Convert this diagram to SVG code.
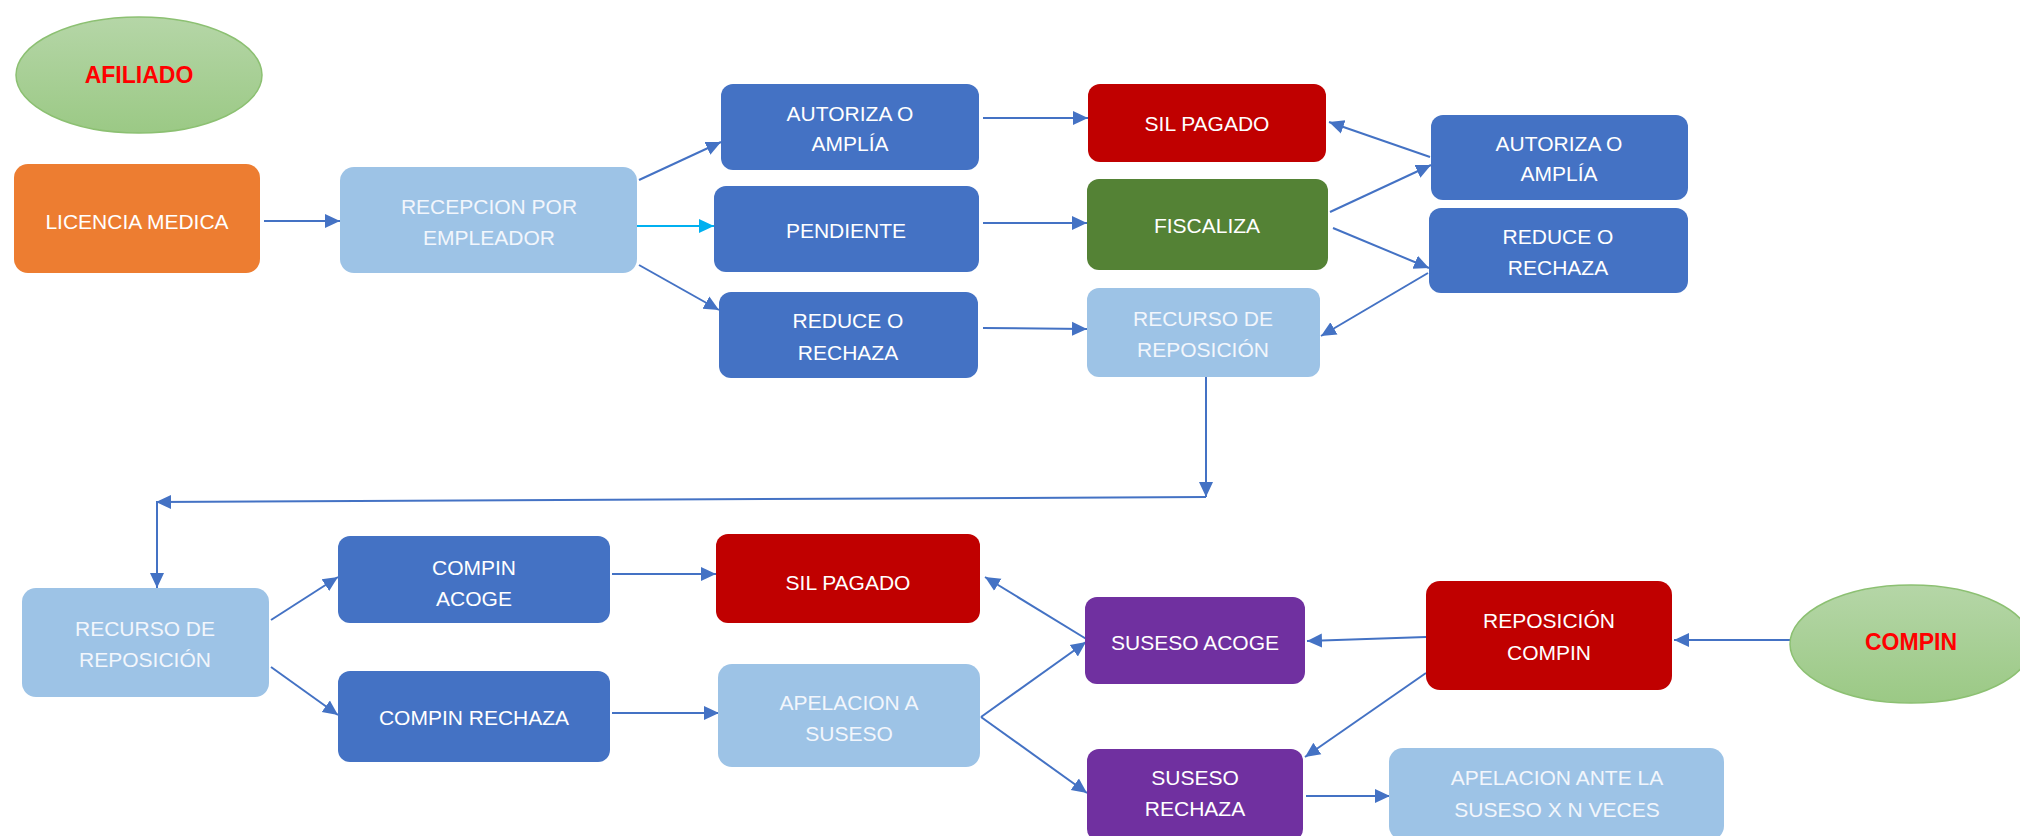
<svg xmlns="http://www.w3.org/2000/svg" width="2020" height="836" viewBox="0 0 2020 836">
<defs>
<marker id="ah" markerUnits="userSpaceOnUse" markerWidth="16" markerHeight="16" viewBox="0 0 16 16" refX="15" refY="8" orient="auto">
<path d="M0,1 L15,8 L0,15 Z" fill="#4472C4"/>
</marker>
<marker id="ahc" markerUnits="userSpaceOnUse" markerWidth="16" markerHeight="16" viewBox="0 0 16 16" refX="15" refY="8" orient="auto">
<path d="M0,1 L15,8 L0,15 Z" fill="#00B0F0"/>
</marker>
<linearGradient id="eg" x1="0" y1="0" x2="0" y2="1">
<stop offset="0" stop-color="#B5D6A7"/>
<stop offset="1" stop-color="#9BC985"/>
</linearGradient>
</defs>
<style>
.t{font-family:"Liberation Sans",Arial,sans-serif;font-size:21px;fill:#FFFFFF;text-anchor:middle;dominant-baseline:central}
.tl{font-family:"Liberation Sans",Arial,sans-serif;font-size:21px;fill:#F2F6FC;text-anchor:middle;dominant-baseline:central}
.tr{font-family:"Liberation Sans",Arial,sans-serif;font-size:23px;font-weight:bold;fill:#FF0000;text-anchor:middle;dominant-baseline:central}
.db{fill:#4472C4}
.lb{fill:#9DC3E6}
.rd{fill:#C00000}
.gr{fill:#548235}
.pu{fill:#7030A0}
.or{fill:#ED7D31}
.el{fill:url(#eg);stroke:#8CC072;stroke-width:1.5}
.c{fill:none;stroke:#4472C4;stroke-width:2;marker-end:url(#ah)}
.cc{fill:none;stroke:#00B0F0;stroke-width:2;marker-end:url(#ahc)}
.cn{fill:none;stroke:#4472C4;stroke-width:2}
</style>

<g id="connectors">
<path class="c" d="M264,221 L340,221"/>
<path class="c" d="M639,180 L721,142"/>
<path class="cc" d="M637,226 L714,226"/>
<path class="c" d="M639,265 L719,310"/>
<path class="c" d="M983,118 L1088,118"/>
<path class="c" d="M983,223 L1087,223"/>
<path class="c" d="M983,328 L1087,329"/>
<path class="c" d="M1430,157 L1329,122"/>
<path class="c" d="M1330,212 L1431,165"/>
<path class="c" d="M1333,228 L1429,268"/>
<path class="c" d="M1428,273 L1321,336"/>
<path class="c" d="M1206,377 L1206,497"/>
<path class="c" d="M1206,497 L156,502"/>
<path class="c" d="M157,502 L157,588"/>
<path class="c" d="M271,620 L338,577"/>
<path class="c" d="M271,667 L338,715"/>
<path class="c" d="M612,574 L716,574"/>
<path class="c" d="M612,713 L719,713"/>
<path class="c" d="M1088,640 L985,577"/>
<path class="c" d="M981,717 L1086,642"/>
<path class="c" d="M981,717 L1087,793"/>
<path class="c" d="M1790,640 L1674,640"/>
<path class="c" d="M1426,637 L1307,641"/>
<path class="c" d="M1426,673 L1305,757"/>
<path class="c" d="M1306,796 L1390,796"/>
</g>

<g id="afiliado">
<ellipse class="el" cx="139" cy="75" rx="123" ry="58"/>
<text class="tr" x="139" y="75">AFILIADO</text>
</g>
<g id="licencia">
<rect class="or" x="14" y="164" width="246" height="109" rx="14"/>
<text class="t" x="137" y="221">LICENCIA MEDICA</text>
</g>
<g id="recepcion">
<rect class="lb" x="340" y="167" width="297" height="106" rx="14"/>
<text class="tl" x="489" y="206">RECEPCION POR</text>
<text class="tl" x="489" y="237">EMPLEADOR</text>
</g>
<g id="autoriza1">
<rect class="db" x="721" y="84" width="258" height="86" rx="12"/>
<text class="t" x="850" y="113">AUTORIZA O</text>
<text class="t" x="850" y="143">AMPLÍA</text>
</g>
<g id="pendiente">
<rect class="db" x="714" y="186" width="265" height="86" rx="12"/>
<text class="t" x="846" y="230">PENDIENTE</text>
</g>
<g id="reduce1">
<rect class="db" x="719" y="292" width="259" height="86" rx="12"/>
<text class="t" x="848" y="320">REDUCE O</text>
<text class="t" x="848" y="352">RECHAZA</text>
</g>
<g id="silpagado1">
<rect class="rd" x="1088" y="84" width="238" height="78" rx="12"/>
<text class="t" x="1207" y="123">SIL PAGADO</text>
</g>
<g id="fiscaliza">
<rect class="gr" x="1087" y="179" width="241" height="91" rx="12"/>
<text class="t" x="1207" y="225">FISCALIZA</text>
</g>
<g id="recurso1">
<rect class="lb" x="1087" y="288" width="233" height="89" rx="12"/>
<text class="tl" x="1203" y="318">RECURSO DE</text>
<text class="tl" x="1203" y="349">REPOSICIÓN</text>
</g>
<g id="autoriza2">
<rect class="db" x="1431" y="115" width="257" height="85" rx="12"/>
<text class="t" x="1559" y="143">AUTORIZA O</text>
<text class="t" x="1559" y="173">AMPLÍA</text>
</g>
<g id="reduce2">
<rect class="db" x="1429" y="208" width="259" height="85" rx="12"/>
<text class="t" x="1558" y="236">REDUCE O</text>
<text class="t" x="1558" y="267">RECHAZA</text>
</g>
<g id="recurso2">
<rect class="lb" x="22" y="588" width="247" height="109" rx="14"/>
<text class="tl" x="145" y="628">RECURSO DE</text>
<text class="tl" x="145" y="659">REPOSICIÓN</text>
</g>
<g id="compinacoge">
<rect class="db" x="338" y="536" width="272" height="87" rx="12"/>
<text class="t" x="474" y="567">COMPIN</text>
<text class="t" x="474" y="598">ACOGE</text>
</g>
<g id="compinrechaza">
<rect class="db" x="338" y="671" width="272" height="91" rx="12"/>
<text class="t" x="474" y="717">COMPIN RECHAZA</text>
</g>
<g id="silpagado2">
<rect class="rd" x="716" y="534" width="264" height="89" rx="12"/>
<text class="t" x="848" y="582">SIL PAGADO</text>
</g>
<g id="apelacion">
<rect class="lb" x="718" y="664" width="262" height="103" rx="14"/>
<text class="tl" x="849" y="702">APELACION A</text>
<text class="tl" x="849" y="733">SUSESO</text>
</g>
<g id="susesoacoge">
<rect class="pu" x="1085" y="597" width="220" height="87" rx="12"/>
<text class="t" x="1195" y="642">SUSESO ACOGE</text>
</g>
<g id="susesorechaza">
<rect class="pu" x="1087" y="749" width="216" height="92" rx="12"/>
<text class="t" x="1195" y="777">SUSESO</text>
<text class="t" x="1195" y="808">RECHAZA</text>
</g>
<g id="reposicioncompin">
<rect class="rd" x="1426" y="581" width="246" height="109" rx="14"/>
<text class="t" x="1549" y="620">REPOSICIÓN</text>
<text class="t" x="1549" y="652">COMPIN</text>
</g>
<g id="apelacionante">
<rect class="lb" x="1389" y="748" width="335" height="92" rx="14"/>
<text class="tl" x="1557" y="777">APELACION ANTE LA</text>
<text class="tl" x="1557" y="809">SUSESO X N VECES</text>
</g>
<g id="compin">
<ellipse class="el" cx="1911" cy="644" rx="121" ry="59"/>
<text class="tr" x="1911" y="642">COMPIN</text>
</g>
</svg>
